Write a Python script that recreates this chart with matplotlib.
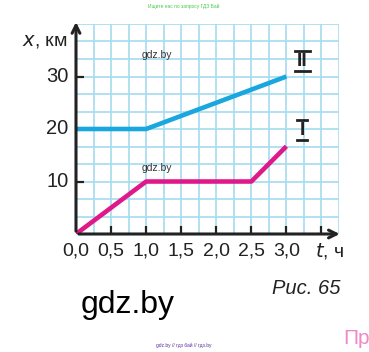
import numpy as np
import matplotlib
matplotlib.use("Agg")
import matplotlib.pyplot as plt

# данные графика
t_ii = [0.0, 1.0, 3.0]
x_ii = [20, 20, 30]
t_i = [0.0, 1.0, 2.5, 3.0]
x_i = [0, 10, 10, 16.7]

xticks = [0.0, 0.5, 1.0, 1.5, 2.0, 2.5, 3.0]
xtick_labels = ["0,0", "0,5", "1,0", "1,5", "2,0", "2,5", "3,0"]
yticks = [10, 20, 30]
ytick_labels = ["10", "20", "30"]

plt.rcParams['font.family'] = ['Liberation Sans', 'DejaVu Sans']

W, H = 369, 352
fig = plt.figure(figsize=(W / 100, H / 100), dpi=100)

def px(x, y):
    # пиксели картинки -> доли фигуры
    return x / W, 1 - y / H

ax = fig.add_axes([76 / W, 1 - 234 / H, 263 / W, 210 / H])
ax.set_xlim(0, 3.75)
ax.set_ylim(0, 40)

# сетка
grid_c = '#a6dcf0'
for gx in np.arange(0.25, 3.76, 0.25):
    ax.axvline(gx, color=grid_c, lw=1.2, zorder=1)
for gy in np.arange(10 / 3, 40.1, 10 / 3):
    ax.axhline(gy, color=grid_c, lw=1.2, zorder=1)

for s in ax.spines.values():
    s.set_visible(False)

# линии движения
ax.plot(t_ii, x_ii, color='#1aa7df', lw=3.3, solid_capstyle='butt', zorder=3)
ax.plot(t_i, x_i, color='#e0198a', lw=3.3, solid_capstyle='butt', zorder=3)

# оси со стрелками
ax.annotate('', xy=(3.8, 0), xytext=(0, 0), xycoords='data',
            arrowprops=dict(arrowstyle='->', lw=2.2, color='#222222',
                            mutation_scale=14), annotation_clip=False, zorder=5)
ax.annotate('', xy=(0, 40.9), xytext=(0, 0), xycoords='data',
            arrowprops=dict(arrowstyle='->', lw=2.2, color='#222222',
                            mutation_scale=14), annotation_clip=False, zorder=5)

ax.set_xticks(xticks[1:] + [3.5])
ax.set_xticklabels([])
ax.set_yticks(yticks)
ax.set_yticklabels([])
ax.tick_params(axis='x', direction='in', length=6, width=1.6, color='#222222')
ax.tick_params(axis='y', direction='in', length=6, width=1.6, color='#222222')

for v, lab in zip(xticks, xtick_labels):
    ax.text(v, -3.3, lab, ha='center', va='center', fontsize=14,
            color='#222222', clip_on=False)
for v, lab in zip(yticks, ytick_labels):
    ax.text(-0.11, v, lab, ha='right', va='center', fontsize=14.5,
            color='#222222', clip_on=False)

fig.text(*px(45, 41), r'$\it{x}$, км', ha='center', va='center',
         fontsize=14, color='#222222')
fig.text(*px(330, 251), r'$\it{t}$, ч', ha='center', va='center',
         fontsize=14, color='#222222')

# римские цифры у графиков
def roman(xc, yc, txt, half):
    fig.text(*px(xc, yc), txt, ha='center', va='center', fontsize=14,
             fontweight='bold', color='#222222')
    for yy in (yc - 10, yc + 10):
        fig.add_artist(plt.Line2D([(xc - half) / W, (xc + half) / W],
                                  [1 - yy / H, 1 - yy / H], lw=2.0,
                                  color='#222222'))

roman(302, 61, 'II', 7.5)
roman(302, 130, 'I', 5)

# водяные знаки и подписи
fig.text(*px(157, 55), 'gdz.by', ha='center', va='center', fontsize=7.5,
         color='#333333')
fig.text(*px(157, 168), 'gdz.by', ha='center', va='center', fontsize=7.5,
         color='#333333')
fig.text(*px(128, 305), 'gdz.by', ha='center', va='center', fontsize=23,
         color='black')
fig.text(*px(306, 289), 'Рис. 65', ha='center', va='center', fontsize=14.5,
         style='italic', color='#222222')
fig.text(*px(184, 6), 'Ищите нас по запросу ГДЗ Бай', ha='center',
         va='center', fontsize=3.5, color='#44cc44')
fig.text(*px(184, 345), 'gdz.by // гдз бай // гдз.by', ha='center',
         va='center', fontsize=3.5, color='#5b2d9a')
fig.text(*px(343, 339), 'Пр', ha='left', va='center', fontsize=15,
         color='#ee88c8')

fig.savefig('out.png', dpi=100)
